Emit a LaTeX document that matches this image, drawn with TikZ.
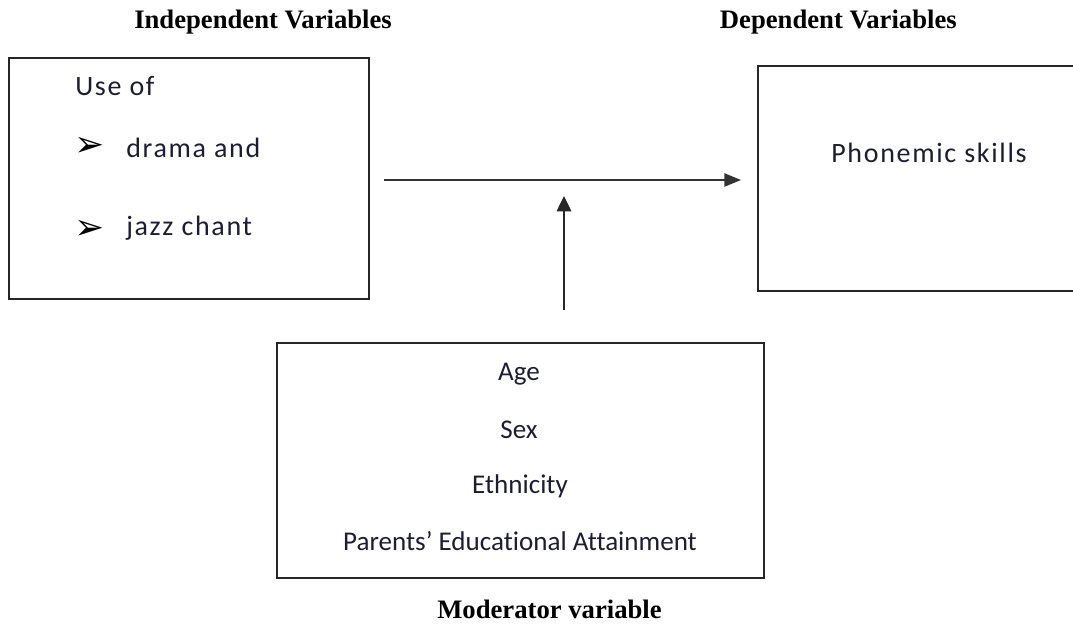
\documentclass[tikz,border=0pt]{standalone}
\usepackage{fontspec}
\setmainfont{Liberation Serif}
\newfontfamily\boxfont{Carlito}[Ligatures=NoCommon]
\newfontfamily\sidefont{Carlito}[LetterSpace=6]
\newfontfamily\symfont{DejaVu Sans}
\usetikzlibrary{arrows.meta}
\definecolor{inktext}{RGB}{28,28,52}
\begin{document}
\begin{tikzpicture}[x=0.75pt,y=-0.75pt,
  frame/.style={draw=black!85, line width=1.1pt, fill=none, inner sep=0pt, outer sep=0pt},
  heading/.style={font=\fontsize{20}{22}\selectfont\bfseries, inner sep=0pt},
  boxtext/.style={font=\sidefont\fontsize{21}{24}\selectfont, text=inktext, inner sep=0pt, anchor=base west},
  midtext/.style={font=\boxfont\fontsize{20.3}{23}\selectfont, text=inktext, inner sep=0pt, anchor=base},
  bullet/.style={font=\symfont\fontsize{27}{30}\selectfont, text=black, inner sep=0pt},
  link/.style={draw=black!80, line width=1pt, -{Triangle[length=12.5pt,width=10pt]}},
  uplink/.style={draw=black!85, line width=1pt, -{Triangle[length=11.5pt,width=11pt]}}]
\useasboundingbox (0,0) rectangle (1073,625);
% headings
\node[heading, anchor=base west] (hind) at (134,28) {Independent Variables};
\node[heading, anchor=base east] (hdep) at (957,28) {Dependent Variables};
\node[heading, anchor=base west] (hmod) at (437,618) {Moderator variable};
% boxes
\node[frame, minimum width=270pt, minimum height=180.75pt] (indep) at (189,178.5) {};
\node[frame, minimum width=249pt, minimum height=168.75pt] (dep) at (924,178.5) {};
\node[frame, minimum width=365.25pt, minimum height=176.25pt] (mod) at (520.5,460.5) {};
% left box text
\node[boxtext] (useof) at (75,95) {Use of};
\node[bullet] (b1) at (90,147) {➢};
\node[boxtext] (drama) at (126,157) {drama and};
\node[bullet] (b2) at (90,230) {➢};
\node[boxtext] (jazz) at (126,235) {jazz chant};
% right box text
\node[boxtext, anchor=base] (phon) at (929,162) {Phonemic skills};
% bottom box text
\node[midtext] (age) at (519,380) {Age};
\node[midtext] (sex) at (519,438) {Sex};
\node[midtext] (eth) at (520,493) {Ethnicity};
\node[midtext] (par) at (520,550) {Parents’ Educational Attainment};
% arrows
\coordinate (hs) at (384,180);
\coordinate (he) at (741,180);
\coordinate (vs) at (564,310);
\coordinate (ve) at (564,196);
\draw[link] (hs) -- (he);
\draw[uplink] (vs) -- (ve);
\end{tikzpicture}
\end{document}
